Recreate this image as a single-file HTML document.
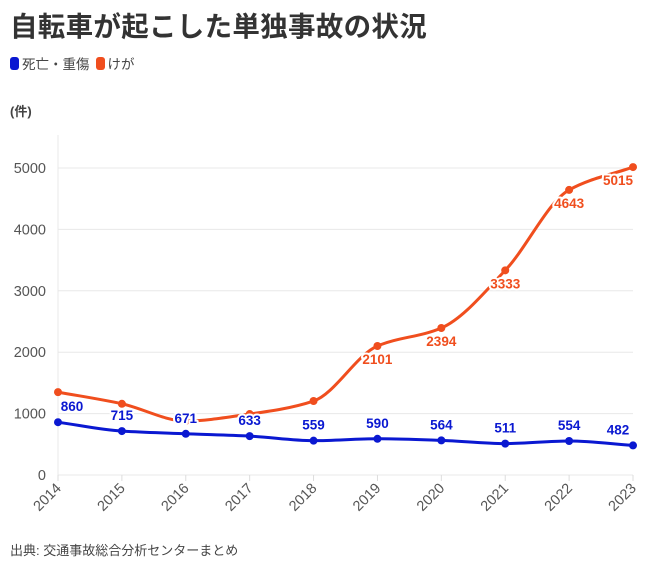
<!DOCTYPE html>
<html><head><meta charset="utf-8">
<style>
body{margin:0;background:#fff;width:671px;height:570px;overflow:hidden;font-family:"Liberation Sans","Noto Sans CJK JP",sans-serif;color:#333}
.title{position:absolute;left:10px;top:4px;font-size:27.5px;font-weight:bold;color:#333;letter-spacing:0.3px}
.legend{position:absolute;left:10px;top:53px;font-size:13.5px;color:#444;display:flex;align-items:center}
.sw{display:inline-block;width:9px;height:13px;border-radius:3px;margin-right:3px}
.unit{position:absolute;left:10px;top:101px;font-size:13px;font-weight:bold;color:#444}
.src{position:absolute;left:10px;top:540px;font-size:13px;color:#444}
svg{position:absolute;left:0;top:0}
</style></head><body>
<div class="title">自転車が起こした単独事故の状況</div>
<div class="legend">
<span class="sw" style="background:#0a18d1"></span><span>死亡・重傷</span>
<span class="sw" style="background:#f04e1e;margin-left:6px"></span><span>けが</span>
</div>
<div class="unit">(件)</div>
<div class="src">出典: 交通事故総合分析センターまとめ</div>
<svg id="chart" width="671" height="570"></svg>
<script>
const years=["2014","2015","2016","2017","2018","2019","2020","2021","2022","2023"];
const serious=[860,715,671,633,559,590,564,511,554,482];
const injury=[1350,1160,880,993,1205,2101,2394,3333,4643,5015];
const injuryLabelShown=[false,false,false,false,false,true,true,true,true,true];
const yTicks=[0,1000,2000,3000,4000,5000];

const NS="http://www.w3.org/2000/svg";
const svg=document.getElementById('chart');
const x0=58,x1=633,yb=475,yt=168,ymax=5000,plotTop=135;
const X=i=>x0+(x1-x0)*i/(years.length-1);
const Y=v=>yb-(yb-yt)*v/ymax;
function mk(t,a,p){const e=document.createElementNS(NS,t);for(const k in a)e.setAttribute(k,a[k]);(p||svg).appendChild(e);return e;}
yTicks.forEach(v=>{
 const l=mk('line',{x1:x0,x2:x1,y1:Y(v),y2:Y(v),stroke:'#e8e8e8','stroke-width':1});
 
 
 const t=mk('text',{x:x0-12,y:Y(v)+5,'text-anchor':'end','font-size':14.5,fill:'#555'});
 t.textContent=v;
 
 
});
const ax=mk('line',{x1:x0,x2:x0,y1:plotTop,y2:yb+6,stroke:'#e8e8e8'});


years.forEach((yr,i)=>{
 const tk=mk('line',{x1:X(i),x2:X(i),y1:yb,y2:yb+6,stroke:'#ddd'});
 
 
 const t=mk('text',{x:X(i)+4,y:yb+14,'text-anchor':'end','font-size':14.5,fill:'#555',transform:`rotate(-45 ${X(i)+4} ${yb+14})`});
 t.textContent=yr;
 
 
});
function monotone(pts){
 const n=pts.length,d=[],m=[];
 for(let i=0;i<n-1;i++)d.push((pts[i+1][1]-pts[i][1])/(pts[i+1][0]-pts[i][0]));
 for(let i=0;i<n;i++){
  if(i==0)m.push(d[0]);else if(i==n-1)m.push(d[n-2]);
  else m.push(d[i-1]*d[i]<=0?0:(2/(1/d[i-1]+1/d[i])));
 }
 let s=`M${pts[0][0]},${pts[0][1]}`;
 for(let i=0;i<n-1;i++){const h=(pts[i+1][0]-pts[i][0])/3;
  s+=`C${pts[i][0]+h},${pts[i][1]+m[i]*h} ${pts[i+1][0]-h},${pts[i+1][1]-m[i+1]*h} ${pts[i+1][0]},${pts[i+1][1]}`;}
 return s;
}
function series(vals,color,name){
 const pts=vals.map((v,i)=>[X(i),Y(v)]);
 const p=mk('path',{d:monotone(pts),fill:'none',stroke:color,'stroke-width':3});
 
 
 pts.forEach(q=>{
  const c=mk('circle',{cx:q[0],cy:q[1],r:4,fill:color});
  
  
 });
 return pts;
}
const ip=series(injury,'#f04e1e','injury');
const sp=series(serious,'#0a18d1','serious');
function label(x,y,txt,color,name){
 const t=mk('text',{x:x,y:y,'text-anchor':'middle','font-size':13.5,'font-weight':'bold',fill:color,stroke:'#fff','stroke-width':4,'paint-order':'stroke','stroke-linejoin':'round'});
 t.textContent=txt;
 
 
}
injury.forEach((v,i)=>{ if(injuryLabelShown[i]) label(Math.min(ip[i][0],x1-15),ip[i][1]+18,v,'#f04e1e','injury-value-label'); });
serious.forEach((v,i)=>{ label(i==0?X(i)+14:Math.min(X(i),x1-15),sp[i][1]-11,v,'#0a18d1','serious-value-label'); });
</script>
</body></html>
